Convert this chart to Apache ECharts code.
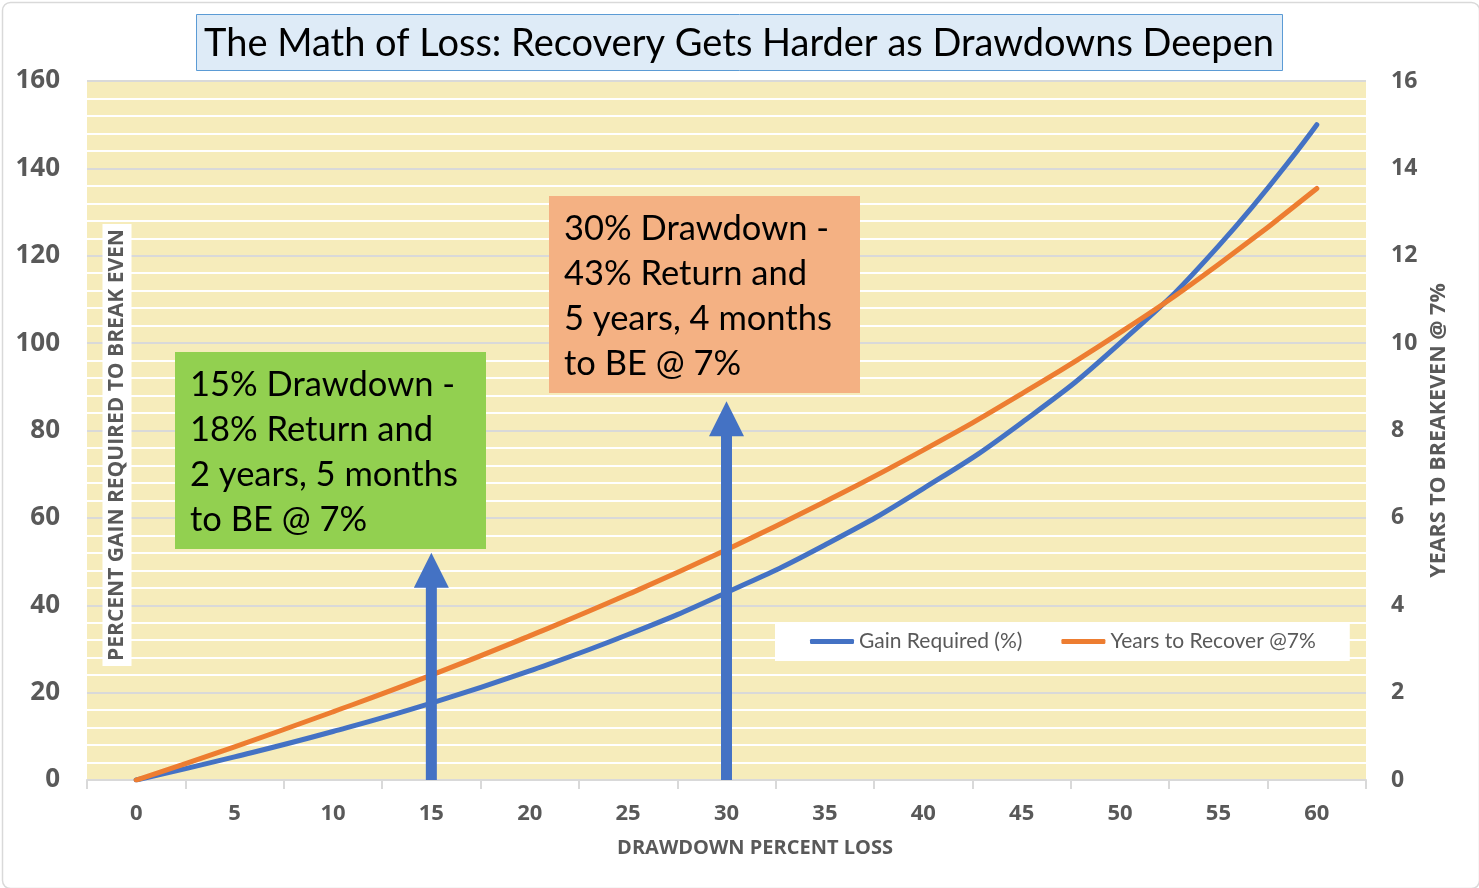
<!DOCTYPE html>
<html>
<head>
<meta charset="utf-8">
<title>The Math of Loss</title>
<script src="https://cdn.jsdelivr.net/npm/echarts@6/dist/echarts.min.js"></script>
<style>
  html, body { margin: 0; padding: 0; background: #fff; }
  #chart { width: 1479px; height: 888px; }
</style>
</head>
<body>
<div id="chart"></div>
<script>
// drawdown % loss (x categories)
const drawdowns = ['0', '5', '10', '15', '20', '25', '30', '35', '40', '45', '50', '55', '60']
// gain required to break even (%), left axis
const gainRequired = [0, 5.3, 11.1, 17.6, 25.0, 33.3, 42.9, 53.8, 66.7, 81.8, 100, 122.2, 150]
// years to recover at 7% per year, right axis
const yearsToRecover = [0, 0.76, 1.56, 2.40, 3.30, 4.25, 5.27, 6.37, 7.55, 8.84, 10.24, 11.80, 13.54]
// annotation arrows: drawdown and top of arrow (left axis units)
const arrowAt = ['15', '30']
const arrowTop = [52, 86.7]

const FONT = 'Lato, "Open Sans", sans-serif'
const BOLD_FONT = '"Open Sans", Lato, sans-serif'
const GREY = '#595959'
const BLUE = '#4472C4'
const ORANGE = '#ED7D31'

const chart = echarts.init(document.getElementById('chart'))

// arrow: shaft from 0 up to the head, triangle head on top
function renderArrow(params, api) {
  const top = api.coord([api.value(0), api.value(1)])
  const base = api.coord([api.value(0), 0])
  const x = top[0]
  const headH = 35
  const headW = 17.5
  const shaftW = 5.5
  return {
    type: 'polygon',
    shape: {
      points: [
        [x, top[1]],
        [x + headW, top[1] + headH],
        [x + shaftW, top[1] + headH],
        [x + shaftW, base[1]],
        [x - shaftW, base[1]],
        [x - shaftW, top[1] + headH],
        [x - headW, top[1] + headH]
      ]
    },
    style: { fill: BLUE },
    z2: 10
  }
}

function noteBox(left, top, fill, lines) {
  return {
    type: 'group',
    left: left,
    top: top,
    z: 50,
    children: [
      { type: 'rect', z: 50, shape: { x: 0, y: 0, width: 311, height: 197 }, style: { fill: fill } },
      {
        type: 'text',
        z: 51,
        x: 15,
        y: 10,
        style: {
          text: lines.join('\n'),
          font: '34.5px ' + FONT,
          fill: '#000',
          lineHeight: 45
        }
      }
    ]
  }
}

const option = {
  textStyle: { fontFamily: FONT },
  animation: false,
  grid: {
    left: 87,
    right: 113,
    top: 81,
    bottom: 108,
    show: true,
    backgroundColor: '#F6ECBB',
    borderWidth: 0
  },
  legend: {
    left: 775,
    top: 622,
    backgroundColor: '#fff',
    padding: [9, 34, 9, 35],
    itemWidth: 44,
    itemHeight: 5,
    itemGap: 39,
    icon: 'roundRect',
    textStyle: { color: GREY, fontSize: 21, fontFamily: FONT },
    data: ['Gain Required (%)', 'Years to Recover @7%']
  },
  xAxis: {
    type: 'category',
    data: drawdowns,
    boundaryGap: true,
    name: 'DRAWDOWN PERCENT LOSS',
    nameLocation: 'middle',
    nameGap: 58,
    nameTextStyle: { color: GREY, fontSize: 20, fontWeight: 'bold', fontFamily: BOLD_FONT, padding: [0, 0, 0, 57] },
    axisLine: { lineStyle: { color: '#D9D9D9', width: 2 } },
    axisTick: { show: true, length: 9, lineStyle: { color: '#D9D9D9', width: 2 } },
    axisLabel: { color: GREY, fontSize: 22, fontWeight: 'bold', fontFamily: BOLD_FONT, margin: 23 }
  },
  yAxis: [
    {
      type: 'value',
      min: 0,
      max: 160,
      interval: 20,
      axisLine: { show: false },
      axisTick: { show: false },
      axisLabel: { color: GREY, fontSize: 26, fontWeight: 'bold', fontFamily: BOLD_FONT, margin: 27 },
      splitLine: { lineStyle: { color: '#D9D9D9', width: 2 } },
      minorTick: { show: false, splitNumber: 5 },
      minorSplitLine: { show: true, lineStyle: { color: '#FFFFFF', width: 2 } }
    },
    {
      type: 'value',
      min: 0,
      max: 16,
      interval: 2,
      name: 'YEARS TO BREAKEVEN @ 7%',
      nameLocation: 'middle',
      nameRotate: 90,
      nameGap: 62,
      nameTextStyle: { color: GREY, fontSize: 21.5, fontWeight: 'bold', fontFamily: BOLD_FONT },
      axisLine: { show: false },
      axisTick: { show: false },
      axisLabel: { color: GREY, fontSize: 23, fontWeight: 'bold', fontFamily: BOLD_FONT, margin: 25 },
      splitLine: { show: false }
    }
  ],
  series: [
    {
      name: 'Gain Required (%)',
      type: 'line',
      data: gainRequired,
      yAxisIndex: 0,
      smooth: true,
      symbol: 'none',
      lineStyle: { color: BLUE, width: 5, cap: 'round' },
      itemStyle: { color: BLUE },
      z: 3
    },
    {
      name: 'Years to Recover @7%',
      type: 'line',
      data: yearsToRecover,
      yAxisIndex: 1,
      smooth: true,
      symbol: 'none',
      lineStyle: { color: ORANGE, width: 5, cap: 'round' },
      itemStyle: { color: ORANGE },
      z: 3
    },
    {
      type: 'custom',
      name: 'arrows',
      yAxisIndex: 0,
      renderItem: renderArrow,
      data: arrowAt.map((d, i) => [d, arrowTop[i]]),
      encode: { x: 0, y: 1 },
      z: 5,
      silent: true
    }
  ],
  graphic: [
    {
      type: 'rect',
      left: 0,
      top: 0,
      shape: { x: 0.5, y: 0.5, width: 1477, height: 886, r: 8 },
      style: { fill: 'none', stroke: '#D9D9D9', lineWidth: 1.5 },
      z: 0
    },
    {
      type: 'group',
      left: 196,
      top: 14,
      z: 50,
      children: [
        {
          type: 'rect',
          z: 50,
          shape: { x: 0.5, y: 0.5, width: 1086, height: 56 },
          style: { fill: '#DEEBF7', stroke: '#5B9BD5', lineWidth: 1 }
        },
        {
          type: 'text',
          z: 51,
          x: 543,
          y: 30,
          style: {
            text: 'The Math of Loss: Recovery Gets Harder as Drawdowns Deepen',
            font: '38px ' + FONT,
            fill: '#000',
            align: 'center',
            verticalAlign: 'middle'
          }
        }
      ]
    },
    {
      type: 'text',
      x: 117,
      y: 445,
      rotation: Math.PI / 2,
      z: 50,
      style: {
        text: 'PERCENT GAIN REQUIRED TO BREAK EVEN',
        font: 'bold 21px ' + BOLD_FONT,
        fill: GREY,
        align: 'center',
        verticalAlign: 'middle',
        backgroundColor: '#fff',
        padding: [4, 5, 4, 5]
      }
    },
    noteBox(175, 352, '#92D050', ['15% Drawdown -', '18% Return and', '2 years, 5 months', 'to BE @ 7%']),
    noteBox(549, 196, '#F4B183', ['30% Drawdown -', '43% Return and', '5 years, 4 months', 'to BE @ 7%'])
  ]
}

chart.setOption(option)
window.addEventListener('resize', () => chart.resize())
</script>
</body>
</html>
